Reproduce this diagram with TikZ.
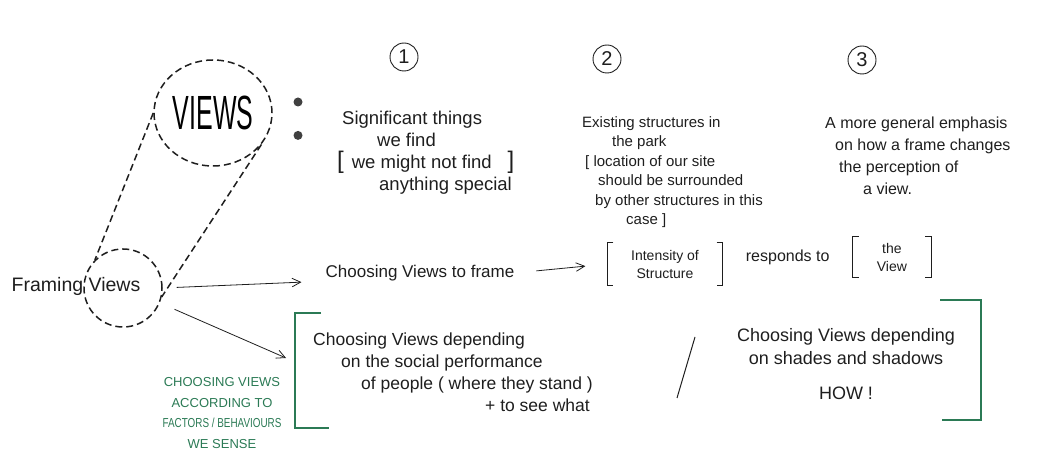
\documentclass[tikz,border=0pt]{standalone}
\usepackage{fontspec}
\setmainfont{Liberation Sans}
\usepackage{graphicx}
\usepackage{tikz}
\usetikzlibrary{
  arrows.meta,
  shapes.geometric,
  positioning,
  calc
}
\definecolor{fvInk}{HTML}{1E1E1E}
\definecolor{fvGreen}{HTML}{2B7A55}
\tikzset{
  hand/.style={text=fvInk, inner sep=0pt, font=\fontsize{17.5}{22}\selectfont},
  handsmall/.style={hand, font=\fontsize{14}{18}\selectfont, align=center},
  dashring/.style={draw=fvInk, line width=1.5pt, dash pattern=on 7pt off 4pt},
  numring/.style={circle, draw=fvInk, line width=0.9pt, minimum size=28pt, inner sep=0pt,
    text=fvInk, font=\fontsize{20}{20}\selectfont},
  bullet/.style={circle, fill=fvInk!85, minimum size=9pt, inner sep=0pt},
  flow/.style={-{Straight Barb[length=3mm, width=3mm]}, draw=fvInk, line width=0.8pt},
  ink/.style={draw=fvInk, line width=1pt},
  bracketbox/.style={handsmall, minimum height=42pt},
  sensenote/.style={text=fvGreen, inner sep=0pt, align=center, font=\fontsize{13}{20.5}\selectfont},
  greenbar/.style={draw=fvGreen, line width=1.6pt}
}

\begin{document}
\begin{tikzpicture}[x=1pt, y=-1pt]
  \useasboundingbox (0,0) rectangle (1059,470);

  % the two rings
  \node[dashring, ellipse, minimum width=118pt, minimum height=106pt, inner sep=0pt] (views) at (213,113)
    {\scalebox{0.52}[1]{\fontsize{48}{48}\selectfont VIEWS}};
  \node[dashring, circle, minimum size=78pt, inner sep=0pt] (framering) at (123,288) {};
  \node[hand, font=\fontsize{19.5}{19.5}\selectfont] (framelbl) at (76,286) {Framing Views};
  \draw[dashring] (views.180) -- (framering.135);
  \draw[dashring] (views.-33) -- (framering.-13);

  \node[bullet] (dot1) at (298,102) {};
  \node[bullet, below=24pt of dot1] (dot2) {};

  % three points
  \node[numring] (num1) at (404,57) {1};
  \node[numring] (num2) at (607,59) {2};
  \node[numring] (num3) at (862,60) {3};

  \node[hand, font=\fontsize{18.5}{22}\selectfont, align=left, anchor=west] (things) at (337,153)
    {\hspace*{5pt}Significant things\\\hspace*{40pt}we find\\{\fontsize{24}{22}\selectfont[}\hspace{8pt}we might not find\hspace{16pt}{\fontsize{24}{22}\selectfont]}\\\hspace*{42pt}anything special};
  \node[hand, font=\fontsize{15}{19.5}\selectfont, align=left, anchor=west] (existing) at (582,172)
    {Existing structures in\\\hspace*{30pt}the park\\\hspace*{3pt}{[} location of our site\\\hspace*{16pt}should be surrounded\\\hspace*{13pt}by other structures in this\\\hspace*{44pt}case {]}};
  \node[hand, font=\fontsize{16}{22}\selectfont, align=left, anchor=west] (emphasis) at (825,156)
    {A more general emphasis\\\hspace*{10pt}on how a frame changes\\\hspace*{14pt}the perception of\\\hspace*{38pt}a view.};

  % framing row
  \node[hand, font=\fontsize{17}{17}\selectfont] (chooseframe) at (420,273) {Choosing Views to frame};
  \node[bracketbox, minimum width=115pt] (intensity) at (665,264) {Intensity of\\Structure};
  \node[hand, font=\fontsize{16}{16}\selectfont, right=23pt of intensity, yshift=7pt] (responds) {responds to};
  \node[bracketbox, minimum width=78pt, minimum height=40pt, right=23pt of responds] (theview) {the\\View};
  \draw[ink] ([xshift=6pt]intensity.north west) -- (intensity.north west) -- (intensity.south west) -- ([xshift=6pt]intensity.south west);
  \draw[ink] ([xshift=-6pt]intensity.north east) -- (intensity.north east) -- (intensity.south east) -- ([xshift=-6pt]intensity.south east);
  \draw[ink] ([xshift=6pt]theview.north west) -- (theview.north west) -- (theview.south west) -- ([xshift=6pt]theview.south west);
  \draw[ink] ([xshift=-6pt]theview.north east) -- (theview.north east) -- (theview.south east) -- ([xshift=-6pt]theview.south east);

  \draw[flow, shorten <=14pt, shorten >=24pt] (framering.east) -- (chooseframe.south west);
  \draw[flow, shorten <=22pt, shorten >=22pt] (chooseframe.east) -- (intensity.west);

  % depending on people / on shadows
  \coordinate (lbtop) at (295,313);
  \coordinate (lbbot) at (295,428);
  \coordinate (lbmid) at (286,358);
  \draw[greenbar] ([xshift=26pt]lbtop) -- (lbtop) -- (lbbot) -- ([xshift=34pt]lbbot);
  \draw[flow, shorten <=16pt] (framering.-22) -- (lbmid);
  \node[sensenote] (sense) at (222,413)
    {CHOOSING VIEWS\\ACCORDING TO\\\scalebox{0.76}[1]{FACTORS / BEHAVIOURS}\\WE SENSE};

  \node[hand, align=left, anchor=west] (social) at (313,372)
    {Choosing Views depending\\\hspace*{28pt}on the social performance\\\hspace*{48pt}of people ( where they stand )\\\hspace*{172pt}+ to see what};

  \coordinate (slashlo) at (677,398);
  \coordinate (slashhi) at (695,337);
  \draw[ink] (slashlo) -- (slashhi);

  \node[hand, font=\fontsize{18}{23}\selectfont, align=center] (shades) at (846,364)
    {Choosing Views depending\\on shades and shadows\\[12pt]HOW !};
  \coordinate (rbtop) at (981,300);
  \coordinate (rbbot) at (981,420);
  \draw[greenbar] ([xshift=-41pt]rbtop) -- (rbtop) -- (rbbot) -- ([xshift=-39pt]rbbot);
\end{tikzpicture}
\end{document}
